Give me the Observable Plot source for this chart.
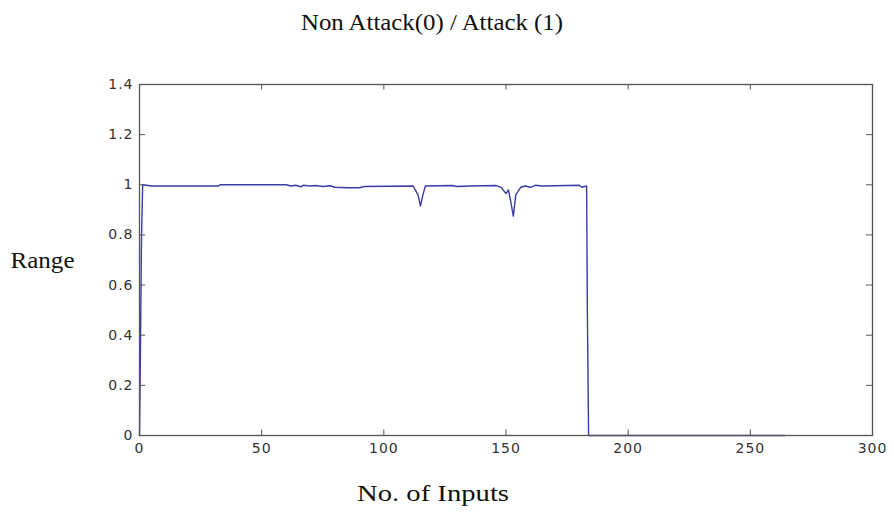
<!DOCTYPE html>
<html>
<head>
<meta charset="utf-8">
<script src="https://cdn.jsdelivr.net/npm/d3@7"></script>
<script src="https://cdn.jsdelivr.net/npm/@observablehq/plot@0.6"></script>
<style>
  html, body { margin: 0; padding: 0; background: #fff; }
  svg g[aria-label="x-axis tick label"] text, svg g[aria-label="y-axis tick label"] text { letter-spacing: 1px; }
</style>
</head>
<body>
<div id="chart"></div>
<script>
const titleText = "Non Attack(0) / Attack (1)";
const xLabel = "No. of Inputs";
const yLabel = "Range";
const xTicks = [0, 50, 100, 150, 200, 250, 300];
const yTicks = [0, 0.2, 0.4, 0.6, 0.8, 1, 1.2, 1.4];

const inputs = [0, 0.3, 0.8, 1.3, 5, 32, 33, 60, 62, 64, 66, 67, 70, 72, 75, 78, 80, 85, 90, 92, 112, 114, 115, 116, 117, 128, 130, 135, 146, 148, 150, 151, 152, 153, 154, 156, 158, 160, 162, 165, 180, 181, 183, 183.3, 183.8, 264];
const range  = [0, 0.25, 0.78, 1.0, 0.995, 0.995, 1.0, 1.0, 0.995, 0.998, 0.992, 0.998, 0.995, 0.997, 0.993, 0.996, 0.99, 0.988, 0.988, 0.993, 0.995, 0.96, 0.915, 0.96, 0.995, 0.997, 0.993, 0.995, 0.997, 0.99, 0.965, 0.98, 0.93, 0.875, 0.96, 0.99, 0.995, 0.99, 0.998, 0.995, 0.998, 0.99, 0.995, 0.5, 0, 0];

const data = inputs.map((x, i) => ({x, y: range[i]}));

const tickFont = {fontFamily: "DejaVu Sans", fontSize: 14, fill: "#333"};

const chart = Plot.plot({
  width: 894,
  height: 529,
  marginLeft: 139,
  marginRight: 22,
  marginTop: 84,
  marginBottom: 94,
  style: {background: "#fff", overflow: "visible"},
  x: {domain: [0, 300]},
  y: {domain: [0, 1.4]},
  marks: [
    Plot.line(data, {x: "x", y: "y", stroke: "#3b3ba6", strokeWidth: 1.4}),
    Plot.frame({stroke: "#555", strokeWidth: 1.3}),
    Plot.ruleX(xTicks, {x: d => d, y1: 0, y2: 0.022, stroke: "#555"}),
    Plot.ruleX(xTicks, {x: d => d, y1: 1.4, y2: 1.378, stroke: "#555"}),
    Plot.ruleY(yTicks, {y: d => d, x1: 0, x2: 2.5, stroke: "#555"}),
    Plot.ruleY(yTicks, {y: d => d, x1: 300, x2: 297.5, stroke: "#555"}),
    Plot.axisX(xTicks, {tickSize: 0, tickPadding: 8, ...tickFont, label: null, tickFormat: d => String(d)}),
    Plot.axisY(yTicks, {tickSize: 0, tickPadding: 6, ...tickFont, label: null, tickFormat: d => String(d)}),
    Plot.text([titleText], {frameAnchor: "top", dx: -74, dy: -62, lineAnchor: "middle", text: d => d, fontFamily: "Liberation Serif", fontSize: 23, fill: "#111"}),
    Plot.text([yLabel], {frameAnchor: "left", dx: -97, dy: 0, textAnchor: "middle", lineAnchor: "middle", text: d => d, fontFamily: "Liberation Serif", fontSize: 24, fill: "#111"}),
    Plot.text([xLabel], {frameAnchor: "bottom", dx: -73, dy: 58, lineAnchor: "middle", text: d => d, fontFamily: "Liberation Serif", fontSize: 23, fill: "#111"})
  ]
});
// Stretch the serif labels horizontally to match the reference's wide lettering
const widths = {[titleText]: 262, [yLabel]: 64, [xLabel]: 152};
d3.select(chart).selectAll("text").each(function () {
  const t = this.textContent;
  if (widths[t]) {
    d3.select(this).attr("textLength", widths[t]).attr("lengthAdjust", "spacingAndGlyphs");
  }
});
document.getElementById("chart").appendChild(chart);
</script>
</body>
</html>
